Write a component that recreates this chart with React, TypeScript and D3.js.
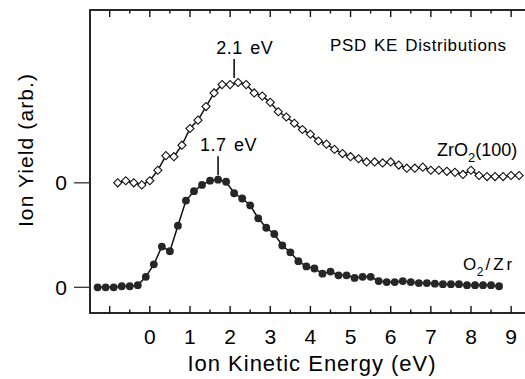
import React, { useRef, useEffect } from 'react'
import * as d3 from 'd3'

// ZrO2(100) curve (open diamonds), plotted with an offset of 1
const zrO2Energy = [-0.8, -0.6, -0.4, -0.2, 0.0, 0.2, 0.4, 0.6, 0.8, 1.0,
  1.2, 1.4, 1.6, 1.8, 2.0, 2.2, 2.4, 2.6, 2.8, 3.0,
  3.2, 3.4, 3.6, 3.8, 4.0, 4.2, 4.4, 4.6, 4.8, 5.0,
  5.2, 5.4, 5.6, 5.8, 6.0, 6.2, 6.4, 6.6, 6.8, 7.0,
  7.2, 7.4, 7.6, 7.8, 8.0, 8.2, 8.4, 8.6, 8.8, 9.0, 9.2]
const zrO2Yield = [0.0, 0.02, 0.0, -0.02, 0.02, 0.12, 0.26, 0.25, 0.36, 0.52,
  0.6, 0.73, 0.86, 0.94, 0.94, 0.96, 0.94, 0.86, 0.83, 0.77,
  0.68, 0.63, 0.57, 0.51, 0.465, 0.4, 0.37, 0.32, 0.28, 0.25,
  0.23, 0.2, 0.2, 0.19, 0.2, 0.17, 0.14, 0.14, 0.15, 0.12,
  0.12, 0.11, 0.1, 0.08, 0.12, 0.07, 0.06, 0.06, 0.06, 0.07, 0.07]

// O2/Zr curve (filled circles)
const o2ZrEnergy = [-1.3, -1.1, -0.9, -0.7, -0.5, -0.3, -0.1, 0.1, 0.3, 0.5,
  0.7, 0.9, 1.1, 1.3, 1.5, 1.7, 1.9, 2.1, 2.3, 2.5,
  2.7, 2.9, 3.1, 3.3, 3.5, 3.7, 3.9, 4.1, 4.3, 4.5,
  4.7, 4.9, 5.1, 5.3, 5.5, 5.7, 5.9, 6.1, 6.3, 6.5,
  6.7, 6.9, 7.1, 7.3, 7.5, 7.7, 7.9, 8.1, 8.3, 8.5, 8.7]
const o2ZrYield = [0.0, 0.0, 0.0, 0.01, 0.01, 0.02, 0.1, 0.22, 0.39, 0.345,
  0.59, 0.83, 0.92, 0.98, 1.02, 1.03, 1.01, 0.9, 0.85, 0.785,
  0.66, 0.57, 0.51, 0.4, 0.335, 0.25, 0.2, 0.18, 0.13, 0.15,
  0.115, 0.115, 0.09, 0.1, 0.1, 0.06, 0.05, 0.05, 0.06, 0.05,
  0.04, 0.04, 0.035, 0.03, 0.03, 0.03, 0.02, 0.02, 0.02, 0.02, 0.01]

const zrO2Offset = 1
const xTickValues = [0, 1, 2, 3, 4, 5, 6, 7, 8, 9]
const yZeroValues = [0, zrO2Offset]
const peakEnergies = [2.1, 1.7]
const peakLabels = ['2.1 eV', '1.7 eV']

const FONT = "'Liberation Sans', Arial, Helvetica, sans-serif"

export default function App() {
  const ref = useRef<SVGSVGElement>(null)

  useEffect(() => {
    const svg = d3.select(ref.current)
    svg.selectAll('*').remove()

    const width = 525, height = 379
    const left = 90, right = 526, top = 10, bottom = 313

    const x = d3.scaleLinear().domain([-1.49, 9.37]).range([left, right])
    const y = d3.scaleLinear().domain([-0.246, 2.654]).range([bottom, top])

    svg.attr('width', width).attr('height', height)
      .style('font-family', FONT)

    // frame
    svg.append('rect')
      .attr('x', left).attr('y', top)
      .attr('width', right - left).attr('height', bottom - top)
      .attr('fill', 'none').attr('stroke', '#111').attr('stroke-width', 1.8)

    // x ticks on top and bottom, pointing inward
    const ticks = d3.range(-1, 9.01, 0.5)
    const tickG = svg.append('g').attr('stroke', '#111').attr('stroke-width', 1.4)
    ticks.forEach(t => {
      const len = Number.isInteger(t) ? 7 : 3.5
      tickG.append('line').attr('x1', x(t)).attr('x2', x(t)).attr('y1', top).attr('y2', top + len)
      tickG.append('line').attr('x1', x(t)).attr('x2', x(t)).attr('y1', bottom).attr('y2', bottom - len)
    })

    svg.append('g').selectAll('text')
      .data(xTickValues)
      .join('text')
      .attr('x', d => x(d))
      .attr('y', 344)
      .attr('text-anchor', 'middle')
      .style('font-size', '21px')
      .text(d => String(d))

    // y zero ticks (outside)
    yZeroValues.forEach(v => {
      svg.append('line')
        .attr('x1', left - 16).attr('x2', left)
        .attr('y1', y(v)).attr('y2', y(v))
        .attr('stroke', '#333').attr('stroke-width', 1.3)
      svg.append('text')
        .attr('x', 67).attr('y', y(v) + 7.5)
        .attr('text-anchor', 'end')
        .style('font-size', '21px')
        .text('0')
    })

    // axis titles
    svg.append('text')
      .attr('x', 312).attr('y', 371)
      .attr('text-anchor', 'middle')
      .style('font-size', '22px')
      .style('letter-spacing', '1px')
      .text('Ion Kinetic Energy (eV)')

    svg.append('text')
      .attr('transform', 'translate(33,150) rotate(-90)')
      .attr('text-anchor', 'middle')
      .style('font-size', '21px')
      .style('letter-spacing', '1.1px')
      .text('Ion Yield (arb.)')

    // curves
    const upper = zrO2Energy.map((e, i) => [e, zrO2Yield[i] + zrO2Offset] as [number, number])
    const lower = o2ZrEnergy.map((e, i) => [e, o2ZrYield[i]] as [number, number])
    const line = d3.line<[number, number]>().x(d => x(d[0])).y(d => y(d[1]))

    svg.append('path').attr('d', line(upper)).attr('fill', 'none')
      .attr('stroke', '#111').attr('stroke-width', 1.5)
    svg.append('path').attr('d', line(lower)).attr('fill', 'none')
      .attr('stroke', '#111').attr('stroke-width', 1.5)

    const diamond = d3.symbol().type(d3.symbolSquare).size(33)
    svg.append('g').selectAll('path')
      .data(upper)
      .join('path')
      .attr('d', diamond)
      .attr('transform', d => `translate(${x(d[0])},${y(d[1])}) rotate(45)`)
      .attr('fill', 'white').attr('stroke', '#111').attr('stroke-width', 1.1)

    svg.append('g').selectAll('circle')
      .data(lower)
      .join('circle')
      .attr('cx', d => x(d[0])).attr('cy', d => y(d[1]))
      .attr('r', 3.9)
      .attr('fill', '#262626')

    // peak markers
    const peakTops = [zrO2Yield[15] + zrO2Offset, o2ZrYield[15]]
    peakEnergies.forEach((p, i) => {
      const yb = y(peakTops[i]) - 4.5
      svg.append('line')
        .attr('x1', x(p)).attr('x2', x(p))
        .attr('y1', yb - 19).attr('y2', yb)
        .attr('stroke', '#111').attr('stroke-width', 1.6)
      svg.append('text')
        .attr('x', x(p) - 18).attr('y', yb - 24)
        .style('font-size', '18px')
        .style('letter-spacing', '0.5px')
        .style('word-spacing', '2px')
        .text(peakLabels[i])
    })

    // title
    svg.append('text')
      .attr('x', 330).attr('y', 51)
      .style('font-size', '17px')
      .style('letter-spacing', '0.6px')
      .style('word-spacing', '2px')
      .text('PSD KE Distributions')

    // series labels
    const zr = svg.append('text').attr('x', 437).attr('y', 155.5).style('font-size', '18px')
    zr.append('tspan').text('ZrO')
    zr.append('tspan').attr('dy', 6).style('font-size', '13px').text('2')
    zr.append('tspan').attr('dy', -6).text('(100)')

    const oz = svg.append('text').attr('x', 463).attr('y', 270).style('font-size', '17px')
    oz.append('tspan').text('O')
    oz.append('tspan').attr('dy', 6).attr('dx', 0.5).style('font-size', '12px').text('2')
    oz.append('tspan').attr('dy', -6).attr('dx', 2).text('/')
    oz.append('tspan').attr('dx', 3).text('Z')
    oz.append('tspan').attr('dx', 3).text('r')
  }, [])

  return (
    <div style={{ position: 'absolute', left: 0, top: 0 }}>
      <svg ref={ref} style={{ display: 'block' }} />
    </div>
  )
}
